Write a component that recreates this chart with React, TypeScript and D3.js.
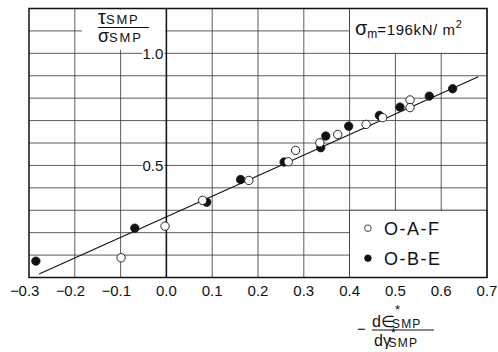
import * as d3 from "d3";
import * as React from "react";

// O-A-F path (open circles) and O-B-E path (filled circles)
const openPoints: Array<[number, number]> = [
    [-0.099, 0.088], [-0.003, 0.229], [0.079, 0.344], [0.18, 0.433],
    [0.266, 0.516], [0.282, 0.567], [0.335, 0.601], [0.374, 0.638],
    [0.436, 0.683], [0.472, 0.713], [0.532, 0.792], [0.532, 0.758],
];
const filledPoints: Array<[number, number]> = [
    [-0.285, 0.073], [-0.069, 0.22], [0.088, 0.336], [0.162, 0.437],
    [0.257, 0.515], [0.337, 0.579], [0.348, 0.631], [0.398, 0.675],
    [0.465, 0.723], [0.51, 0.76], [0.574, 0.809], [0.625, 0.842],
];
const fitLine: Array<[number, number]> = [[-0.278, 0.016], [0.681, 0.896]];

const xTicks = [-0.3, -0.2, -0.1, 0, 0.1, 0.2, 0.3, 0.4, 0.5, 0.6, 0.7];
const yGrid = [0.1, 0.2, 0.3, 0.4, 0.5, 0.6, 0.7, 0.8, 0.9, 1.0, 1.1];
const yLabels = [0.5, 1.0];
const legendItems = [{ name: "O-A-F", filled: false }, { name: "O-B-E", filled: true }];

const W = 498, H = 352;
const font = "'Liberation Sans', Arial, sans-serif";
const ink = "#111";

export default function App() {
    const x = d3.scaleLinear().domain([-0.3, 0.7]).range([29, 487]);
    const y = d3.scaleLinear().domain([0, 1.2]).range([277.5, 8.5]);
    const line = d3.line<[number, number]>().x(d => x(d[0])).y(d => y(d[1]));
    const fmt = d3.format(".1f");

    return (
        <svg width={W} height={H} style={{ position: "absolute", left: 0, top: 0, background: "#fff" }}
            fontFamily={font}>
            {/* grid */}
            <g stroke="#333" strokeWidth={0.8}>
                {xTicks.slice(1, -1).map(t =>
                    <line key={"gx" + t} x1={x(t)} x2={x(t)} y1={y(0)} y2={y(1.2)} />)}
                {yGrid.map(t =>
                    <line key={"gy" + t} x1={x(-0.3)} x2={x(0.7)} y1={y(t)} y2={y(t)} />)}
            </g>

            {/* y label area */}
            <rect x={82} y={y(1.2) + 1} width={x(0) - 83} height={y(1.02) - y(1.2)} fill="#fff" />
            {/* sigma box */}
            <rect x={x(0.4)} y={y(1.2)} width={x(0.7) - x(0.4)} height={y(1.0) - y(1.2)}
                fill="#fff" stroke="#333" strokeWidth={0.8} />
            {/* legend box */}
            <rect x={x(0.4)} y={y(0.3)} width={x(0.7) - x(0.4)} height={y(0) - y(0.3)}
                fill="#fff" stroke="#333" strokeWidth={0.8} />

            {/* frame and y axis */}
            <rect x={x(-0.3)} y={y(1.2)} width={x(0.7) - x(-0.3)} height={y(0) - y(1.2)}
                fill="none" stroke={ink} strokeWidth={1.5} />
            <line x1={x(0)} x2={x(0)} y1={y(0)} y2={y(1.2)} stroke={ink} strokeWidth={1.5} />

            {/* y tick labels */}
            {yLabels.map(t =>
                <g key={"yl" + t}>
                    <rect x={x(0) - 24} y={y(t) - 8} width={22} height={16} fill="#fff" />
                    <text x={x(0) - 3} y={y(t) + 5.5} textAnchor="end" fontSize={15} fill={ink}>{fmt(t)}</text>
                </g>)}

            {/* x tick labels */}
            {xTicks.map(t =>
                <g key={"xl" + t}>
                    <text x={x(t)} y={y(0) + 18} textAnchor="middle" fontSize={15} fill={ink}>{fmt(Math.abs(t))}</text>
                    {t < 0 && <text x={x(t) - 10} y={y(0) + 18} textAnchor="end" fontSize={15} fill={ink}>−</text>}
                </g>)}

            {/* fit line */}
            <path d={line(fitLine)!} fill="none" stroke={ink} strokeWidth={1.1} />

            {/* points */}
            {filledPoints.map((p, i) =>
                <circle key={"f" + i} cx={x(p[0])} cy={y(p[1])} r={4.2} fill={ink} stroke={ink} strokeWidth={0.8} />)}
            {openPoints.map((p, i) =>
                <circle key={"o" + i} cx={x(p[0])} cy={y(p[1])} r={4.2} fill="#fff" stroke={ink} strokeWidth={0.9} />)}

            {/* legend */}
            {legendItems.map((it, i) =>
                <g key={it.name} transform={`translate(${x(0.44)},${y(0.22) + i * 30})`}>
                    <circle cx={0} cy={0} r={3.3} fill={it.filled ? ink : "#fff"} stroke={ink} strokeWidth={0.8} />
                    <text x={16} y={6.5} fontSize={18} letterSpacing={1.5} fill={ink}>{it.name}</text>
                </g>)}

            {/* sigma_m label */}
            <text x={355} y={35} fontSize={15} fill={ink}>
                <tspan fontSize={20}>σ</tspan><tspan fontSize={12} dy={3}>m</tspan>
                <tspan dy={-3} letterSpacing={0.6}>=196kN/ m</tspan><tspan fontSize={11} dy={-7}>2</tspan>
            </text>

            {/* y axis title */}
            <text x={98} y={24} fontSize={20} fill={ink}>
                τ<tspan fontSize={13} letterSpacing={1.8}>SMP</tspan>
            </text>
            <line x1={98} x2={149} y1={27.5} y2={27.5} stroke={ink} strokeWidth={1.2} />
            <text x={98} y={42} fontSize={18} fill={ink}>
                σ<tspan fontSize={13} letterSpacing={1.8}>SMP</tspan>
            </text>

            {/* x axis title */}
            <text x={357} y={334} fontSize={15} fill={ink}>−</text>
            <text x={372} y={327} fontSize={16} fill={ink}>
                d∈<tspan fontSize={13} dy={-13}>*</tspan>
                <tspan fontSize={12} dx={-8} dy={14} letterSpacing={1.2}>SMP</tspan>
            </text>
            <line x1={372} x2={434} y1={330} y2={330} stroke={ink} strokeWidth={1} />
            <text x={374} y={346} fontSize={16} fill={ink}>
                dγ<tspan fontSize={12} dy={-9}>*</tspan>
                <tspan fontSize={12} dx={-7} dy={10} letterSpacing={1.2}>SMP</tspan>
            </text>
        </svg>
    );
}
